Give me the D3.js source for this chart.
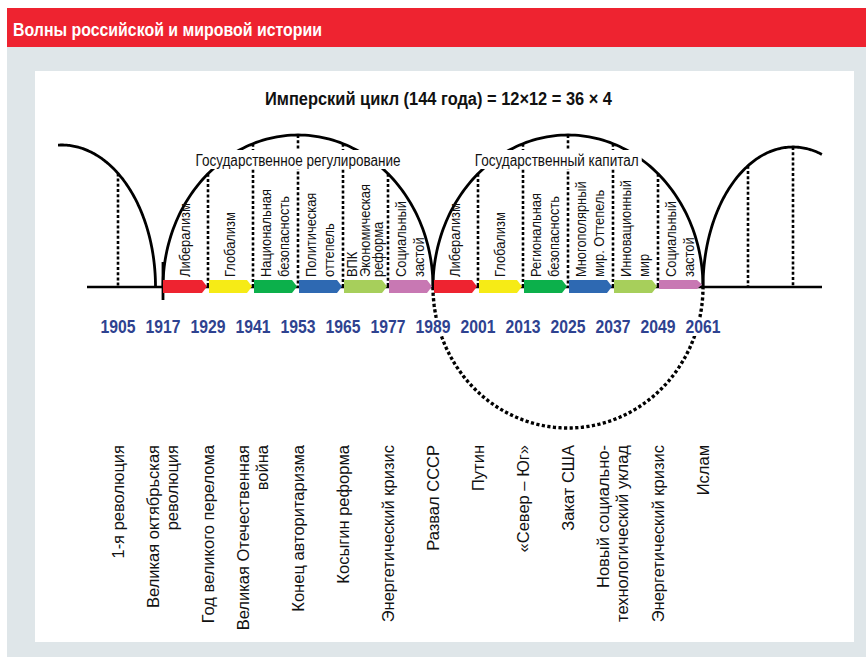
<!DOCTYPE html>
<html><head><meta charset="utf-8">
<script src="https://cdn.jsdelivr.net/npm/d3@7"></script>
<style>body{margin:0;background:#fff;} svg{display:block;}</style>
</head><body>
<svg id="c" width="866" height="657"></svg>
<script>
// ---------- DATA ----------
const years = [1905,1917,1929,1941,1953,1965,1977,1989,2001,2013,2025,2037,2049,2061];
const events = ["1-я революция","Великая октябрьская\nреволюция","Год великого перелома","Великая Отечественная\nвойна","Конец авторитаризма","Косыгин реформа","Энергетический кризис","Развал СССР","Путин","«Север – Юг»","Закат США","Новый социально-\nтехнологический уклад","Энергетический кризис","Ислам"];
const cycleStarts = [1917, 1989];
const cycleEnds = [1989, 2061];
const cycleNames = ["Государственное регулирование", "Государственный капитал"];
const cycleNameYears = [1953, 2022];
const phaseStarts = [1917,1929,1941,1953,1965,1977,1989,2001,2013,2025,2037,2049];
const phaseEnds   = [1929,1941,1953,1965,1977,1989,2001,2013,2025,2037,2049,2061];
const phaseNames = ["Либерализм","Глобализм","Национальная\nбезопасность","Политическая\nоттепель","ВПК\nЭкономическая\nреформа","Социальный\nзастой",
                    "Либерализм","Глобализм","Региональная\nбезопасность","Многополярный\nмир. Оттепель","Инновационный\nмир","Социальный\nзастой"];
const guideYears = [1905,1929,1941,1953,1965,1977,2001,2013,2025,2037,2049,2073,2085];
const titleText = "Имперский цикл (144 года) = 12×12 = 36 × 4";
const headerText = "Волны российской и мировой истории";

// ---------- STYLE / LAYOUT ----------
const phaseColors = ["#ee2330","#f6eb16","#0cb04b","#2e69b2","#a7cf5b","#c878b3"];
const FONT = "'Liberation Sans', Arial, sans-serif";
const svg = d3.select("#c");
const axisY = 287;
const x = d3.scaleLinear().domain([1917, 2061]).range([163, 703]);

// background
svg.append("rect").attr("x",0).attr("y",0).attr("width",866).attr("height",657).attr("fill","#fff");
svg.append("rect").attr("x",7).attr("y",47).attr("width",859).attr("height",610).attr("fill","#dfe6e9");
svg.append("rect").attr("x",7).attr("y",8).attr("width",859).attr("height",39).attr("fill","#ee2330");
svg.append("text").attr("x",13).attr("y",36).attr("fill","#fff").attr("font-family",FONT)
  .attr("font-weight","bold").attr("font-size",18).attr("textLength",309).attr("lengthAdjust","spacingAndGlyphs")
  .text(headerText);
svg.append("rect").attr("x",35).attr("y",71).attr("width",819).attr("height",571).attr("fill","#fff");

// title
svg.append("text").attr("x",265).attr("y",105).attr("font-family",FONT).attr("font-weight","bold")
  .attr("font-size",18).attr("textLength",347).attr("lengthAdjust","spacingAndGlyphs").attr("fill","#111")
  .text(titleText);

// arches (layout geometry in years)
const arches = [
  {c:1890, half:25, h:142, from:1889, to:1917},
  ...cycleStarts.map((s,i)=>({c:(s+cycleEnds[i])/2, half:(cycleEnds[i]-s)/2, h:152, from:s, to:cycleEnds[i]})),
  {c:2085, half:24, h:140, from:2061, to:2092.7}
];
function archY(a, yr){
  const u = (yr - a.c)/a.half;
  return axisY - a.h*Math.sqrt(Math.max(0, 1-u*u));
}
const line = d3.line().x(d=>d[0]).y(d=>d[1]);
arches.forEach(a=>{
  const pts = [];
  const t0 = Math.acos(Math.max(-1,Math.min(1,(a.from-a.c)/a.half)));
  const t1 = Math.acos(Math.max(-1,Math.min(1,(a.to-a.c)/a.half)));
  const n = 120;
  for(let k=0;k<=n;k++){
    const t = t0 + (t1-t0)*k/n;
    const yr = a.c + a.half*Math.cos(t);
    pts.push([x(yr), axisY - a.h*Math.sin(t)]);
  }
  svg.append("path").attr("d",line(pts)).attr("fill","none").attr("stroke","#000").attr("stroke-width",2.8);
});

// dotted guides
guideYears.forEach(yr=>{
  const a = arches.find(a=> yr>=a.from && yr<=a.to);
  svg.append("line").attr("x1",x(yr)).attr("x2",x(yr)).attr("y1",archY(a,yr)).attr("y2",axisY)
    .attr("stroke","#000").attr("stroke-width",2.6).attr("stroke-dasharray","3,2.2");
});

// cycle names with white boxes
cycleNames.forEach((nm,i)=>{
  const w = i===0 ? 205 : 164;
  const cx = x(cycleNameYears[i]);
  svg.append("rect").attr("x",cx-w/2-3).attr("y",150).attr("width",w+6).attr("height",19).attr("fill","#fff");
  svg.append("text").attr("x",cx).attr("y",166).attr("text-anchor","middle").attr("font-family",FONT)
    .attr("font-size",16).attr("textLength",w).attr("lengthAdjust","spacingAndGlyphs").attr("fill","#111").text(nm);
});

// bottom dotted half circle under second cycle
{
  const c = (cycleStarts[1]+cycleEnds[1])/2, half = (cycleEnds[1]-cycleStarts[1])/2;
  const pts = d3.range(0, 121).map(k=>{
    const t = Math.PI*k/120;
    return [x(c - half*Math.cos(t)), axisY + 141*Math.sin(t)];
  });
  svg.append("path").attr("d",line(pts)).attr("fill","none").attr("stroke","#000")
    .attr("stroke-width",3.4).attr("stroke-dasharray","3.2,2.4");
}

// axis line + tick at cycle start
svg.append("line").attr("x1",87).attr("x2",822).attr("y1",axisY).attr("y2",axisY).attr("stroke","#000").attr("stroke-width",2.5);
svg.append("line").attr("x1",x(cycleStarts[0])).attr("x2",x(cycleStarts[0])).attr("y1",262).attr("y2",300).attr("stroke","#000").attr("stroke-width",2.8);

// phase arrows
phaseStarts.forEach((s,i)=>{
  const x0 = x(s)+ (i===0?0:1), x1 = x(phaseEnds[i]) - 1;
  const top = 280, bot = (i===phaseStarts.length-1) ? 289 : 293, tip = 5;
  const mid = (top+bot)/2;
  const p = d3.path();
  p.moveTo(x0,top); p.lineTo(x1-tip,top); p.lineTo(x1,mid); p.lineTo(x1-tip,bot); p.lineTo(x0,bot); p.closePath();
  svg.append("path").attr("d",p.toString()).attr("fill",phaseColors[i%6]);
});

// vertical labels helper
function vlabel(text, cx, y0, anchor, fs, lh, sx){
  const lines = text.split("\n");
  const t = svg.append("text").attr("transform",`translate(${cx},${y0}) rotate(-90) scale(${sx},1)`)
    .attr("text-anchor",anchor).attr("font-family",FONT).attr("font-size",fs).attr("fill","#111");
  lines.forEach((l,i)=> t.append("tspan").attr("x",0).attr("y",(i-(lines.length-1)/2)*lh + 0.36*fs).text(l));
}
phaseNames.forEach((nm,i)=>{
  const w = x(phaseEnds[i]) - x(phaseStarts[i]);
  const n = nm.split("\n").length;
  const lh = Math.min(18, (w-6)/n);
  vlabel(nm, (x(phaseStarts[i])+x(phaseEnds[i]))/2 - 1, 277, "start", 15, lh, 0.86);
});

// year labels
years.forEach(yr=>{
  svg.append("rect").attr("x",x(yr)-19).attr("y",318).attr("width",38).attr("height",18).attr("fill","#fff");
  svg.append("text").attr("x",x(yr)).attr("y",333).attr("text-anchor","middle").attr("font-family",FONT)
    .attr("font-weight","bold").attr("font-size",18).attr("textLength",35).attr("lengthAdjust","spacingAndGlyphs")
    .attr("fill","#2e4290").text(yr);
});

// event labels
events.forEach((ev,i)=>{
  vlabel(ev, x(years[i]), 445, "end", 16.5, 19, 1.0);
});
</script>
</body></html>
